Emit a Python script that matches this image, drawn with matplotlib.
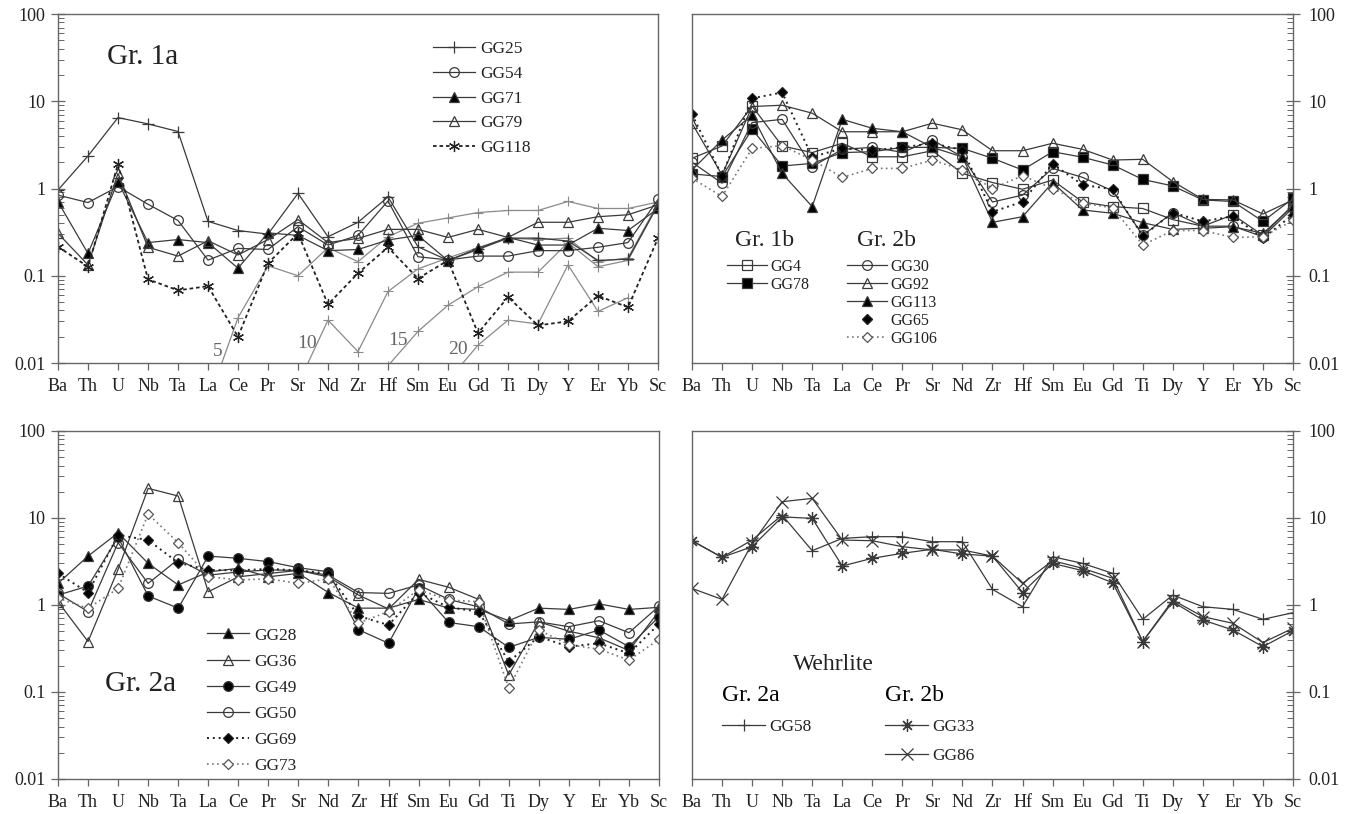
import numpy as np
import matplotlib
matplotlib.use('Agg')
import matplotlib.pyplot as plt
from matplotlib.lines import Line2D
from matplotlib.ticker import FixedLocator, LogLocator, NullFormatter

plt.rcParams['font.family'] = ['Liberation Serif', 'DejaVu Serif']

nan = np.nan

elements = ['Ba', 'Th', 'U', 'Nb', 'Ta', 'La', 'Ce', 'Pr', 'Sr', 'Nd', 'Zr',
            'Hf', 'Sm', 'Eu', 'Gd', 'Ti', 'Dy', 'Y', 'Er', 'Yb', 'Sc']
ytick_values = [0.01, 0.1, 1, 10, 100]
ytick_labels = ['0.01', '0.1', '1', '10', '100']

# ---- Gr. 1a (top left)
gg25 = [0.96, 2.36, 6.5, 5.5, 4.5, 0.42, 0.33, 0.30, 0.88, 0.28, 0.41,
        0.80, 0.215, 0.15, 0.20, 0.27, 0.27, 0.25, 0.15, 0.155, 0.65]
gg54 = [0.84, 0.69, 1.05, 0.66, 0.43, 0.151, 0.206, 0.20, 0.365, 0.225, 0.29,
        0.72, 0.165, 0.152, 0.168, 0.168, 0.194, 0.194, 0.212, 0.24, 0.75]
gg71 = [0.705, 0.18, 1.2, 0.24, 0.26, 0.24, 0.122, 0.31, 0.29, 0.194, 0.20,
        0.257, 0.29, 0.149, 0.206, 0.275, 0.225, 0.225, 0.35, 0.33, 0.59]
gg79 = [0.306, 0.133, 1.49, 0.212, 0.168, 0.252, 0.173, 0.26, 0.44, 0.24, 0.268,
        0.34, 0.34, 0.275, 0.34, 0.275, 0.41, 0.41, 0.475, 0.50, 0.65]
gg118 = [0.215, 0.127, 1.9, 0.091, 0.068, 0.076, 0.020, 0.139, 0.306, 0.047, 0.107,
         0.212, 0.093, 0.15, 0.022, 0.057, 0.027, 0.030, 0.059, 0.0435, 0.27]
# partial melting model curves (labels 5, 10, 15, 20)
melt5 = [nan, nan, nan, nan, nan, 0.0036, 0.033, 0.13, 0.10, 0.21, 0.145,
         0.28, 0.40, 0.46, 0.53, 0.56, 0.56, 0.71, 0.59, 0.59, 0.70]
melt10 = [nan, nan, nan, nan, nan, nan, nan, nan, 0.0057, 0.031, 0.0135,
          0.066, 0.12, 0.16, 0.21, 0.27, 0.26, 0.27, 0.145, 0.16, 0.68]
melt15 = [nan, nan, nan, nan, nan, nan, nan, nan, nan, nan, nan,
          0.0093, 0.023, 0.046, 0.075, 0.11, 0.11, 0.24, 0.127, 0.15, 0.65]
melt20 = [nan, nan, nan, nan, nan, nan, nan, nan, nan, nan, nan,
          nan, nan, 0.0063, 0.016, 0.031, 0.028, 0.133, 0.039, 0.056, nan]
melt_labels = ['5', '10', '15', '20']
melt_label_x = [5.33, 8.3, 11.33, 13.33]
melt_label_y = [0.0134, 0.0169, 0.0183, 0.0141]

# ---- Gr. 1b / Gr. 2b (top right)
gg4 = [2.22, 3.07, 8.8, 3.07, 2.58, 3.3, 2.31, 2.31, 2.71, 1.49, 1.17,
       0.98, 1.25, 0.70, 0.62, 0.59, 0.44, 0.37, 0.50, 0.29, 0.65]
gg78 = [1.47, 1.37, 4.77, 1.81, 1.94, 2.58, 2.64, 2.96, 2.96, 2.88, 2.22,
        1.63, 2.64, 2.28, 1.86, 1.27, 1.07, 0.74, 0.71, 0.42, 0.77]
gg30 = [2.0, 1.15, 5.7, 6.2, 1.78, 2.81, 2.96, 2.6, 3.6, 2.3, 0.70,
        0.84, 1.7, 1.34, 0.94, 0.29, 0.53, 0.37, 0.37, 0.28, 0.60]
gg92 = [5.6, 1.43, 8.7, 9.0, 7.3, 4.47, 4.47, 4.47, 5.6, 4.7, 2.71,
        2.71, 3.3, 2.81, 2.12, 2.16, 1.2, 0.75, 0.74, 0.51, 0.74]
gg113 = [1.63, 3.6, 6.95, 1.49, 0.62, 6.2, 4.9, 4.47, 2.96, 2.3, 0.41,
         0.475, 1.17, 0.567, 0.52, 0.406, 0.34, 0.35, 0.365, 0.306, 0.63]
gg65 = [7.1, 1.4, 10.8, 12.6, 2.3, 2.88, 2.75, 2.96, 3.3, 2.76, 0.54,
        0.706, 1.91, 1.1, 0.98, 0.285, 0.53, 0.42, 0.48, 0.27, 0.50]
gg106 = [1.31, 0.81, 2.88, 3.1, 2.12, 1.34, 1.7, 1.7, 2.12, 1.63, 1.0,
         1.4, 1.0, 0.68, 0.60, 0.225, 0.33, 0.33, 0.275, 0.28, 0.43]

# ---- Gr. 2a (bottom left)
gg28 = [1.77, 3.65, 6.76, 3.01, 1.70, 2.4, 2.64, 2.11, 2.31, 1.39, 0.92,
        0.92, 1.16, 0.92, 0.89, 0.66, 0.92, 0.89, 1.03, 0.89, 0.94]
gg36 = [1.09, 0.38, 2.57, 21.9, 17.9, 1.42, 2.11, 2.3, 2.5, 2.1, 1.30,
        0.90, 1.97, 1.6, 1.16, 0.157, 0.64, 0.50, 0.42, 0.30, 0.85]
gg49 = [1.30, 1.65, 6.0, 1.27, 0.92, 3.65, 3.44, 3.15, 2.68, 2.41, 0.52,
        0.363, 1.55, 0.63, 0.563, 0.326, 0.425, 0.403, 0.516, 0.332, 0.734]
gg50 = [1.36, 0.84, 5.2, 1.77, 3.35, 2.2, 2.4, 2.53, 2.5, 2.2, 1.39,
        1.36, 1.70, 1.16, 0.95, 0.605, 0.64, 0.563, 0.66, 0.48, 0.97]
gg69 = [2.31, 1.39, 6.37, 5.58, 3.06, 2.53, 2.5, 2.6, 2.5, 2.3, 0.747,
        0.589, 1.39, 0.94, 0.84, 0.223, 0.432, 0.332, 0.363, 0.278, 0.605]
gg73 = [1.2, 0.916, 1.55, 11.1, 5.2, 2.12, 1.94, 2.0, 1.77, 2.0, 0.62,
        0.84, 1.5, 1.14, 1.09, 0.111, 0.516, 0.35, 0.31, 0.233, 0.403]

# ---- Wehrlite (bottom right)
gg58 = [5.48, 3.53, 5.58, 10.8, 4.21, 5.83, 6.1, 6.1, 5.34, 5.34, 1.51,
        0.956, 3.59, 3.01, 2.31, 0.685, 1.30, 0.956, 0.89, 0.685, 0.815]
gg33 = [5.48, 3.53, 4.68, 10.3, 9.9, 2.81, 3.44, 3.93, 4.37, 3.85, 3.65,
        1.39, 3.01, 2.48, 1.80, 0.38, 1.09, 0.672, 0.516, 0.332, 0.506]
gg86 = [1.55, 1.16, 5.1, 15.4, 16.8, 5.58, 5.48, 4.68, 4.29, 4.29, 3.65,
        1.77, 3.23, 2.64, 2.03, 0.38, 1.14, 0.734, 0.616, 0.37, 0.54]

TXT = '#222222'
LINE = '#3a3a3a'
GREY = '#8a8a8a'
x = np.arange(len(elements))

SOLID = dict(color=LINE, lw=0.9, mec=LINE, ls='-')
DOT = dict(color='#222222', lw=1.4, mec='#222222', ls=(0, (1, 2)))
DOTG = dict(color='#777777', lw=1.2, mec='#555555', ls=(0, (1, 2)))

asterisk = (6, 2, 0)
star8 = (8, 2, 0)


def setup_axes(ax, right=False):
    ax.set_yscale('log')
    ax.set_ylim(0.01, 100)
    ax.set_xlim(0, len(elements) - 1)
    ax.set_xticks(x)
    ax.set_xticklabels(elements)
    ax.yaxis.set_major_locator(FixedLocator(ytick_values))
    ax.set_yticklabels(ytick_labels)
    ax.yaxis.set_minor_locator(LogLocator(base=10, subs=np.arange(2, 10)))
    ax.yaxis.set_minor_formatter(NullFormatter())
    for sp in ax.spines.values():
        sp.set_color('#666666')
        sp.set_linewidth(1.0)
    ax.tick_params(axis='x', direction='out', length=5, width=0.9,
                   color='#666666', labelsize=13, labelcolor=TXT, pad=6)
    ax.tick_params(axis='y', which='major', direction='inout', length=10,
                   width=0.9, color='#666666', labelsize=13,
                   labelcolor=TXT, pad=4)
    ax.tick_params(axis='y', which='minor', direction='in', length=4,
                   width=0.7, color='#666666')
    if right:
        ax.yaxis.tick_right()
        ax.yaxis.set_label_position('right')
        ax.tick_params(axis='y', which='both', left=False, right=True)
        ax.tick_params(axis='y', which='major', pad=6)


def series(ax, y, marker, style, ms=7, mfc='none', label=None):
    return ax.plot(x, y, marker=marker, ms=ms, mfc=mfc, mew=0.9,
                   label=label, **style)[0]


fig = plt.figure(figsize=(13.56, 8.14), dpi=100)
ax_tl = fig.add_axes([0.04277, 0.55405, 0.44248, 0.42875])
ax_tr = fig.add_axes([0.51032, 0.55405, 0.44322, 0.42875])
ax_bl = fig.add_axes([0.04277, 0.04300, 0.44322, 0.42752])
ax_br = fig.add_axes([0.51032, 0.04300, 0.44322, 0.42752])
setup_axes(ax_tl)
setup_axes(ax_tr, right=True)
setup_axes(ax_bl)
setup_axes(ax_br, right=True)

# ---------------- top left
for m in (melt5, melt10, melt15, melt20):
    ax_tl.plot(x, m, color=GREY, lw=0.9, marker='+', ms=7, mew=0.8)
for lab, lx, ly in zip(melt_labels, melt_label_x, melt_label_y):
    ax_tl.text(lx, ly, lab, fontsize=14, color='#666666',
               ha='center', va='center')
h = [series(ax_tl, gg25, '+', SOLID, ms=8, label='GG25'),
     series(ax_tl, gg54, 'o', SOLID, label='GG54'),
     series(ax_tl, gg71, '^', SOLID, mfc='black', label='GG71'),
     series(ax_tl, gg79, '^', SOLID, label='GG79'),
     series(ax_tl, gg118, asterisk, dict(color='#222222', lw=1.3,
                                          mec='#222222', ls=(0, (2, 1.6))),
            ms=8, label='GG118')]
ax_tl.legend(handles=h, loc='upper left', bbox_to_anchor=(0.625, 0.922),
             frameon=False, fontsize=12.5, handlelength=2.4,
             handletextpad=0.3, labelspacing=0.49, borderpad=0,
             borderaxespad=0, labelcolor=TXT)
ax_tl.text(0.082, 0.877, 'Gr. 1a', transform=ax_tl.transAxes, fontsize=21,
           color=TXT, ha='left', va='center')

# ---------------- top right
h1 = [series(ax_tr, gg4, 's', SOLID, label='GG4'),
      series(ax_tr, gg78, 's', SOLID, mfc='black', label='GG78')]
series(ax_tr, gg30, 'o', SOLID)
series(ax_tr, gg92, '^', SOLID)
series(ax_tr, gg113, '^', SOLID, mfc='black')
series(ax_tr, gg65, 'D', DOT, ms=5.5, mfc='black')
series(ax_tr, gg106, 'D', DOTG, ms=5.5, mfc='white')
h2 = [Line2D([], [], marker='o', ms=7, mfc='none', mew=0.9, **SOLID),
      Line2D([], [], marker='^', ms=7, mfc='none', mew=0.9, **SOLID),
      Line2D([], [], marker='^', ms=7, mfc='black', mew=0.9, **SOLID),
      Line2D([], [], marker='D', ms=5.5, mfc='black', mec='#222222', ls='none'),
      Line2D([], [], marker='D', ms=5.5, mfc='white', mew=0.9, **DOTG)]
leg_kw = dict(loc='upper left', frameon=False, fontsize=11.5,
              handlelength=2.5, handletextpad=0.2,
              labelspacing=0.12, borderpad=0, borderaxespad=0,
              labelcolor=TXT)
lg1 = ax_tr.legend(handles=h1, bbox_to_anchor=(0.058, 0.298), **leg_kw)
ax_tr.add_artist(lg1)
ax_tr.legend(handles=h2, labels=['GG30', 'GG92', 'GG113', 'GG65', 'GG106'],
             bbox_to_anchor=(0.258, 0.298), **leg_kw)
ax_tr.text(0.0715, 0.350, 'Gr. 1b', transform=ax_tr.transAxes, fontsize=17,
           color=TXT, ha='left', va='center')
ax_tr.text(0.2745, 0.350, 'Gr. 2b', transform=ax_tr.transAxes, fontsize=17,
           color=TXT, ha='left', va='center')

# ---------------- bottom left
h = [series(ax_bl, gg28, '^', SOLID, mfc='black', label='GG28'),
     series(ax_bl, gg36, '^', SOLID, label='GG36'),
     series(ax_bl, gg49, 'o', SOLID, mfc='black', label='GG49'),
     series(ax_bl, gg50, 'o', SOLID, label='GG50'),
     series(ax_bl, gg69, 'D', DOT, ms=5.5, mfc='black', label='GG69'),
     series(ax_bl, gg73, 'D', DOTG, ms=5.5, mfc='white', label='GG73')]
ax_bl.legend(handles=h, loc='upper left', bbox_to_anchor=(0.248, 0.4356),
             frameon=False, fontsize=12.5, handlelength=2.4,
             handletextpad=0.3, labelspacing=0.57, borderpad=0,
             borderaxespad=0, labelcolor=TXT)
ax_bl.text(0.078, 0.273, 'Gr. 2a', transform=ax_bl.transAxes, fontsize=21,
           color=TXT, ha='left', va='center')

# ---------------- bottom right
h1 = [series(ax_br, gg58, '+', SOLID, ms=9, label='GG58')]
h2 = [series(ax_br, gg33, star8, SOLID, ms=9, label='GG33'),
      series(ax_br, gg86, 'x', SOLID, ms=9, label='GG86')]
leg_kw2 = dict(leg_kw, fontsize=12.5, labelspacing=0.75,
               title_fontsize=17, alignment='left')
lg1 = ax_br.legend(handles=h1, title='Gr. 2a',
                   bbox_to_anchor=(0.05, 0.27), **leg_kw2)
ax_br.add_artist(lg1)
ax_br.legend(handles=h2, title='Gr. 2b',
             bbox_to_anchor=(0.321, 0.27), **leg_kw2)
ax_br.text(0.168, 0.330, 'Wehrlite', transform=ax_br.transAxes, fontsize=17,
           color=TXT, ha='left', va='center')

fig.savefig('out.png', dpi=100)
